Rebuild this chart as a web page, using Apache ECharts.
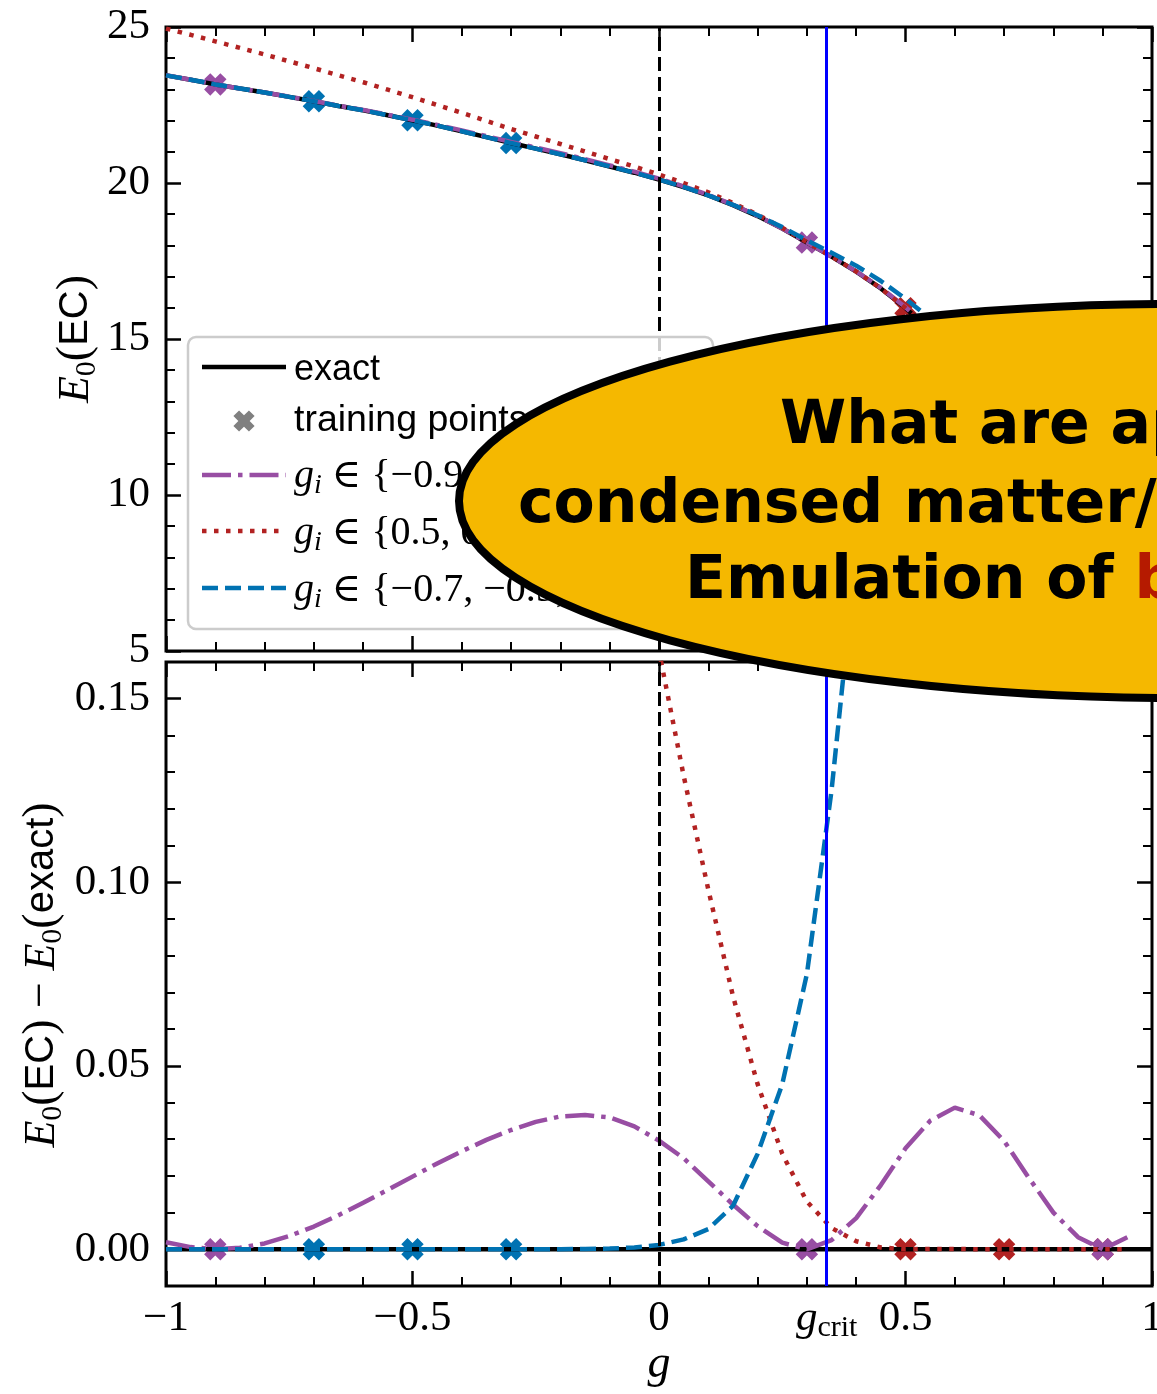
<!DOCTYPE html>
<html>
<head>
<meta charset="utf-8">
<script src="https://cdn.jsdelivr.net/npm/echarts@6/dist/echarts.min.js"></script>
<style>
  html, body { margin: 0; padding: 0; background: #fff; overflow: hidden; }
  #chart { width: 1157px; height: 1394px; }
</style>
</head>
<body>
<div id="chart"></div>
<script>
// Coupling values g on which the energies are evaluated
const gGrid = [-1, -0.95, -0.9, -0.85, -0.8, -0.75, -0.7, -0.65, -0.6, -0.55,
               -0.5, -0.45, -0.4, -0.35, -0.3, -0.25, -0.2, -0.15, -0.1, -0.05,
               0, 0.05, 0.1, 0.15, 0.2, 0.25, 0.3, 0.35, 0.4, 0.45,
               0.5, 0.55, 0.6, 0.65, 0.7, 0.75, 0.8, 0.85, 0.9, 0.95];

// Exact ground-state energy E0(exact)
const eExact = [23.45, 23.31, 23.16, 23.03, 22.90, 22.76, 22.62, 22.47, 22.33, 22.17,
                22.01, 21.84, 21.66, 21.47, 21.28, 21.10, 20.92, 20.73, 20.53, 20.33,
                20.11, 19.87, 19.60, 19.29, 18.94, 18.54, 18.09, 17.64, 17.16, 16.62,
                15.99, 15.28, 14.52, 13.72, 12.88, 12.00, 11.08, 10.12, 9.12, 8.08];

// Emulator error E0(EC) - E0(exact) for the three training sets
const dPurple = [0.0019, 0.0006, 0, 0.0004, 0.0016, 0.0036, 0.0062, 0.0093, 0.0127, 0.0162,
                 0.0198, 0.0234, 0.0267, 0.0298, 0.0325, 0.0347, 0.0362, 0.0366, 0.0359, 0.0335,
                 0.0296, 0.0248, 0.0185, 0.0122, 0.0063, 0.0018, 0, 0.0025, 0.0085, 0.0175,
                 0.0275, 0.0350, 0.0386, 0.0365, 0.0295, 0.0195, 0.0100, 0.0033, 0, 0.0033];
const dRed = [1.50, 1.44, 1.38, 1.30, 1.22, 1.14, 1.06, 0.98, 0.90, 0.82,
              0.74, 0.66, 0.59, 0.52, 0.45, 0.39, 0.33, 0.28, 0.235, 0.197,
              0.163, 0.129, 0.098, 0.069, 0.045, 0.026, 0.013, 0.0058, 0.0022, 0.0005,
              0, 0.0001, 0.0001, 0, 0, 0, 0, 0, 0, 0];
const dBlue = [0, 0, 0, 0, 0, 0, 0, 0, 0, 0,
               0, 0, 0, 0, 0, 0, 0, 0.0001, 0.0002, 0.0005,
               0.0012, 0.0027, 0.0055, 0.0118, 0.026, 0.045, 0.075, 0.125, 0.19, 0.24,
               0.30, 0.38, 0.48, 0.60, 0.74, 0.90, 1.08, 1.28, 1.50, 1.75];

// Training points of each emulator
const gPurple = [-0.9, 0.3, 0.9];
const gRed = [0.5, 0.7, 0.9];
const gBlue = [-0.7, -0.5, -0.3];

// Critical coupling
const gCrit = 0.34;

// Axis ranges and tick values
const xMin = -1, xMax = 1;
const xLabelValues = [-1, -0.5, 0, gCrit, 0.5, 1];
const diffMajorTicks = [0, 0.05, 0.10, 0.15];
const diffMinorTicks = [0.01, 0.02, 0.03, 0.04, 0.06, 0.07, 0.08, 0.09, 0.11, 0.12, 0.13, 0.14];

const PURPLE = '#984EA3', RED = '#B22222', BLUE = '#0072B2';
const SERIF = '"Liberation Serif", "DejaVu Serif", serif';
const SANS = '"Liberation Sans", "DejaVu Sans", sans-serif';
const LW = 4.5;
const DASH = [16, 7], DOT = [4.5, 7.5], DASHDOT = [29, 7, 4.5, 7];
const X_PATH = 'path://M-3.8,-10H3.8V-3.8H10V3.8H3.8V10H-3.8V3.8H-10V-3.8H-3.8Z';
const X_POINTS = [[-4,-11],[4,-11],[4,-4],[11,-4],[11,4],[4,4],
                  [4,11],[-4,11],[-4,4],[-11,4],[-11,-4],[-4,-4]];

const idx = g => gGrid.findIndex(v => Math.abs(v - g) < 1e-9);
const exactPairs = gGrid.map((g, i) => [g, eExact[i]]);
const ecPairs = d => gGrid.map((g, i) => [g, eExact[i] + d[i]]);
const diffPairs = d => gGrid.map((g, i) => [g, d[i]]);
const topPts = gs => gs.map(g => [g, eExact[idx(g)]]);
const bottomPts = gs => gs.map(g => [g, 0]);

function line(xi, yi, data, color, type, width, extra) {
  return Object.assign({
    type: 'line', xAxisIndex: xi, yAxisIndex: yi, data,
    symbol: 'none', showSymbol: false, animation: false, silent: true,
    lineStyle: { color, width: width || LW, type: type || 'solid', cap: 'butt' }
  }, extra || {});
}
function pts(xi, yi, data, color) {
  return {
    type: 'scatter', xAxisIndex: xi, yAxisIndex: yi, data,
    symbol: X_PATH, symbolSize: 23, symbolRotate: 45,
    itemStyle: { color, opacity: 1 }, animation: false, silent: true
  };
}
const vLines = {
  silent: true, symbol: ['none', 'none'], label: { show: false }, animation: false,
  data: [
    { xAxis: 0, lineStyle: { color: '#000', width: 3, type: [14, 6] } },
    { xAxis: gCrit, lineStyle: { color: '#0000FF', width: 3, type: 'solid' } }
  ]
};

const tickStyle = { color: '#000', width: 2.5 };
const noLine = { show: false, onZero: false };
function xAxis(grid, pos, labels) {
  return {
    type: 'value', gridIndex: grid, position: pos, min: xMin, max: xMax, interval: 0.5,
    axisLine: noLine, splitLine: { show: false },
    axisTick: { show: true, inside: true, length: 15, lineStyle: tickStyle },
    minorTick: { show: true, splitNumber: 5, length: 9, lineStyle: { color: '#000', width: 2 } },
    axisLabel: labels ? {
      show: true, customValues: xLabelValues, margin: 9,
      formatter: v => Math.abs(v - gCrit) < 1e-9 ? '{gi|g}{gs|crit}'
                    : '{n|' + (v < 0 ? '\u2212' + Math.abs(v) : String(v)) + '}',
      rich: {
        n: { fontFamily: SERIF, fontSize: 43, lineHeight: 48, color: '#000' },
        gi: { fontFamily: SERIF, fontStyle: 'italic', fontSize: 43, lineHeight: 48, color: '#000' },
        gs: { fontFamily: SERIF, fontSize: 30, lineHeight: 26, verticalAlign: 'bottom', color: '#000' }
      }
    } : { show: false }
  };
}
function yDiffAxis(pos, ticks, len, labels) {
  return {
    type: 'value', gridIndex: 1, position: pos, min: -0.01, max: 0.16,
    axisLine: noLine, splitLine: { show: false },
    axisTick: { show: true, inside: true, length: len, customValues: ticks,
                lineStyle: { color: '#000', width: len > 10 ? 2.5 : 2 } },
    axisLabel: labels ? {
      show: true, customValues: ticks, margin: 16, fontFamily: SERIF, fontSize: 43, color: '#000',
      formatter: v => v.toFixed(2)
    } : { show: false }
  };
}
function yTopAxis(pos, labels) {
  return {
    type: 'value', gridIndex: 0, position: pos, min: 5, max: 25, interval: 5,
    axisLine: noLine, splitLine: { show: false },
    axisTick: { show: true, inside: true, length: 15, lineStyle: tickStyle },
    minorTick: { show: true, splitNumber: 5, length: 9, lineStyle: { color: '#000', width: 2 } },
    axisLabel: labels ? { show: true, margin: 16, fontFamily: SERIF, fontSize: 43, color: '#000' }
                      : { show: false }
  };
}

// Legend drawn as graphic elements
const legendRows = [
  { y: 475, ty: 476.5, color: PURPLE, dash: DASHDOT, label: '{g|g}{s|i} \u2208 {\u22120.9, 0.3, 0.9}' },
  { y: 531, ty: 533.5, color: RED, dash: DOT, label: '{g|g}{s|i} \u2208 {0.5, 0.7, 0.9}' },
  { y: 588, ty: 590.5, color: BLUE, dash: DASH, label: '{g|g}{s|i} \u2208 {\u22120.7, \u22120.5, \u22120.3}' }
];
const mathRich = {
  g: { fontFamily: SERIF, fontStyle: 'italic', fontSize: 40, lineHeight: 46 },
  s: { fontFamily: SERIF, fontStyle: 'italic', fontSize: 28, lineHeight: 26, verticalAlign: 'bottom' }
};
const graphics = [
  { type: 'rect', z: 50, shape: { x: 188, y: 337, width: 525, height: 292, r: 8 },
    style: { fill: 'rgba(255,255,255,0.8)', stroke: '#cccccc', lineWidth: 2.5 } },
  { type: 'line', z: 51, shape: { x1: 202, y1: 367, x2: 286, y2: 367 },
    style: { stroke: '#000', lineWidth: LW } },
  { type: 'polygon', z: 51, x: 244, y: 421, rotation: Math.PI / 4,
    shape: { points: X_POINTS }, style: { fill: '#808080' } },
  { type: 'text', z: 51, x: 294, y: 370,
    style: { text: 'exact', fontFamily: SANS, fontSize: 36, fill: '#000', align: 'left', verticalAlign: 'middle' } },
  { type: 'text', z: 51, x: 294, y: 421,
    style: { text: 'training points', fontFamily: SANS, fontSize: 37.5, fill: '#000', align: 'left', verticalAlign: 'middle' } }
];
legendRows.forEach(r => {
  graphics.push({ type: 'line', z: 51, shape: { x1: 202, y1: r.y, x2: 286, y2: r.y },
    style: { stroke: r.color, lineWidth: LW, lineDash: r.dash, lineCap: 'butt' } });
  graphics.push({ type: 'text', z: 51, x: 294, y: r.ty,
    style: { text: r.label, fontFamily: SERIF, fontSize: 40, fill: '#000', align: 'left',
             verticalAlign: 'middle', rich: mathRich } });
});

// Axis titles
const axisRich = {
  i: { fontFamily: SERIF, fontStyle: 'italic', fontSize: 44, lineHeight: 52 },
  s: { fontFamily: SERIF, fontSize: 30, lineHeight: 30, verticalAlign: 'bottom' },
  sf: { fontFamily: SANS, fontSize: 40, lineHeight: 52 }
};
graphics.push(
  { type: 'text', z: 10, x: 76, y: 339, rotation: Math.PI / 2,
    style: { text: '{i|E}{s|0}({sf|EC})', fontFamily: SERIF, fontSize: 46, fill: '#000',
             align: 'center', verticalAlign: 'middle', rich: axisRich } },
  { type: 'text', z: 10, x: 42, y: 975, rotation: Math.PI / 2,
    style: { text: '{i|E}{s|0}({sf|EC}) \u2212 {i|E}{s|0}({sf|exact})', fontFamily: SERIF, fontSize: 46,
             fill: '#000', align: 'center', verticalAlign: 'middle', rich: axisRich } },
  { type: 'text', z: 10, x: 659, y: 1365,
    style: { text: 'g', fontFamily: SERIF, fontStyle: 'italic', fontSize: 46, fill: '#000',
             align: 'center', verticalAlign: 'middle' } }
);

// Callout bubble
const bubbleFont = { fontFamily: '"DejaVu Sans", sans-serif', fontWeight: 'bold', fontSize: 60 };
graphics.push(
  { type: 'ellipse', z: 100, shape: { cx: 1179, cy: 501, rx: 720, ry: 197 },
    style: { fill: '#F5B800', stroke: '#000', lineWidth: 8 } },
  { type: 'text', z: 101, x: 780, y: 427,
    style: Object.assign({ text: 'What are ap', fill: '#000', align: 'left', verticalAlign: 'middle' }, bubbleFont) },
  { type: 'text', z: 101, x: 518, y: 506,
    style: Object.assign({ text: 'condensed matter/', fill: '#000', align: 'left', verticalAlign: 'middle' }, bubbleFont) },
  { type: 'text', z: 101, x: 685, y: 582,
    style: Object.assign({ text: 'Emulation of {r|b}', fill: '#000', align: 'left', verticalAlign: 'middle',
      rich: { r: Object.assign({ fill: '#B51A00' }, bubbleFont) } }, bubbleFont) }
);

const gridBase = { left: 166, width: 986, height: 624, show: true, borderColor: '#000', borderWidth: 3,
                   backgroundColor: 'transparent', outerBoundsMode: 'none', containLabel: false };
const option = {
  backgroundColor: '#fff',
  animation: false,
  grid: [Object.assign({ top: 27 }, gridBase), Object.assign({ top: 662 }, gridBase)],
  xAxis: [xAxis(0, 'bottom', false), xAxis(0, 'top', false), xAxis(1, 'bottom', true), xAxis(1, 'top', false)],
  yAxis: [
    yTopAxis('left', true), yTopAxis('right', false),
    yDiffAxis('left', diffMajorTicks, 15, true), yDiffAxis('left', diffMinorTicks, 9, false),
    yDiffAxis('right', diffMajorTicks, 15, false), yDiffAxis('right', diffMinorTicks, 9, false)
  ],
  series: [
    // upper panel: energies
    line(0, 0, exactPairs, '#000', 'solid', LW, { markLine: vLines }),
    line(0, 0, ecPairs(dPurple), PURPLE, DASHDOT),
    line(0, 0, ecPairs(dRed), RED, DOT),
    line(0, 0, ecPairs(dBlue), BLUE, DASH),
    pts(0, 0, topPts(gRed), RED),
    pts(0, 0, topPts(gBlue), BLUE),
    pts(0, 0, topPts(gPurple), PURPLE),
    // lower panel: emulator errors
    line(2, 2, [[xMin, 0], [xMax, 0]], '#000', 'solid', LW, { markLine: vLines }),
    line(2, 2, diffPairs(dPurple), PURPLE, DASHDOT),
    line(2, 2, diffPairs(dRed), RED, DOT),
    line(2, 2, diffPairs(dBlue), BLUE, DASH),
    pts(2, 2, bottomPts(gRed), RED),
    pts(2, 2, bottomPts(gBlue), BLUE),
    pts(2, 2, bottomPts(gPurple), PURPLE)
  ],
  graphic: { elements: graphics }
};

const chart = echarts.init(document.getElementById('chart'));
chart.setOption(option);
</script>
</body>
</html>
